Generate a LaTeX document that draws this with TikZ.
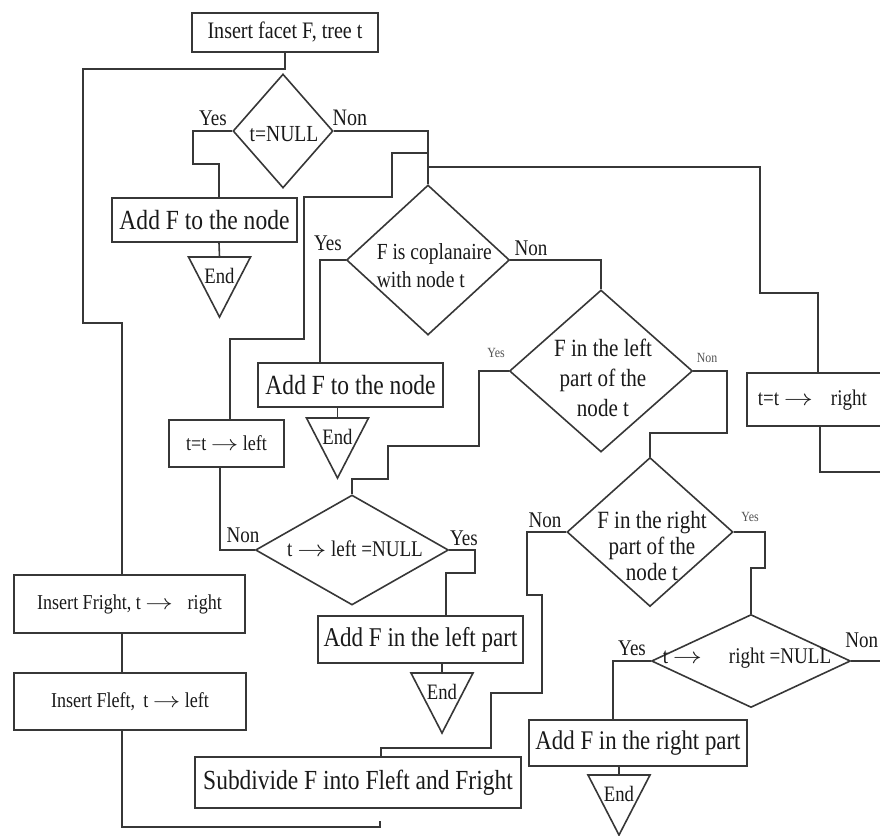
\documentclass[tikz,border=0pt]{standalone}
\usepackage{fix-cm}
\usepackage{fontspec}
\setmainfont[FakeStretch=0.85]{Liberation Serif}
\usetikzlibrary{shapes.geometric}
\definecolor{ln}{RGB}{55,55,55}
\definecolor{tx}{RGB}{25,25,25}
\newcommand\fsz[1]{\fontsize{#1}{#1}\selectfont}
\newcommand\arr{\scalebox{1.3}[1]{$\rightarrow$}}
\tikzset{
  box/.style={draw=ln, rectangle, inner sep=0pt, line width=1.6pt},
  dia/.style={draw=ln, diamond, inner sep=0pt, line width=1.6pt},
  lab/.style={inner sep=0pt, text=tx},
  small/.style={inner sep=0pt, text=tx!75, font=\fsz{14}},
  endtri/.pic={\draw[ln, line width=1.6pt] (-31,0) -- (31,0) -- (0,60) -- cycle;
    \node[lab, font=\fsz{22}] (-t) at (0,19) {End};}
}
\begin{document}
\begin{tikzpicture}[x=1pt, y=-1pt, line width=1.6pt, color=ln, text=tx]
\useasboundingbox (0,0) rectangle (880,835);
\clip (0,0) rectangle (880,835);

% boxes
\node[box, minimum width=186pt, minimum height=39pt, font=\fsz{23.6}] (start) at (285,32.5) {Insert facet F, tree t};
\node[box, minimum width=185pt, minimum height=44pt, font=\fsz{27.7}] (add1) at (204.5,220) {Add F to the node};
\node[box, minimum width=185pt, minimum height=44pt, font=\fsz{27.7}] (add2) at (350.5,385) {Add F to the node};
\node[box, minimum width=115pt, minimum height=47pt, font=\fsz{21.2}] (tleft) at (226.5,443.5) {t=t \arr\ left};
\node[box, minimum width=148pt, minimum height=53pt] (tright) at (821,399.5) {};
\node[lab, font=\fsz{22.4}, anchor=west] (trightT) at (757,400) {t=t \arr\hspace{0.8em}right};
\node[box, minimum width=205pt, minimum height=47pt, font=\fsz{27.1}] (addL) at (420.5,639.5) {Add F in the left part};
\node[box, minimum width=218pt, minimum height=46pt, font=\fsz{26.9}] (addR) at (638,743) {Add F in the right part};
\node[box, minimum width=326pt, minimum height=51pt, font=\fsz{27.6}] (subdiv) at (358,782.5) {Subdivide F into Fleft and Fright};
\node[box, minimum width=231pt, minimum height=58pt, font=\fsz{21.2}] (fright) at (129.5,604) {Insert Fright,\ t \arr\hspace{0.7em}right};
\node[box, minimum width=232pt, minimum height=57pt, font=\fsz{21.2}] (fleft) at (130,701.5) {Insert Fleft,\ \,t \arr\ left};

% diamonds
\node[dia, minimum width=100pt, minimum height=114pt] (d1) at (283,131) {};
\node[lab, font=\fsz{23}] (d1t) at (284,134) {t=NULL};
\node[dia, minimum width=163pt, minimum height=150pt] (d2) at (428,260) {};
\node[lab, font=\fontsize{23}{28}\selectfont, align=left, anchor=west] (d2t) at (376,266) {F is coplanaire\\with node t};
\node[dia, minimum width=183pt, minimum height=162pt] (d3) at (601,371) {};
\node[lab, font=\fontsize{24.8}{30}\selectfont, align=center] (d3t) at (603,378) {F in the left\\part of the\\node t};
\node[dia, minimum width=193pt, minimum height=110pt] (d4) at (352,550) {};
\node[lab, font=\fsz{22.4}] (d4t) at (355,549) {t \arr\ left =NULL};
\node[dia, minimum width=166pt, minimum height=149pt] (d5) at (650,532) {};
\node[lab, font=\fontsize{24.8}{26}\selectfont, align=center] (d5t) at (652,546) {F in the right\\part of the\\node t};
\node[dia, minimum width=199pt, minimum height=93pt] (d6) at (751,661) {};
\node[lab, font=\fsz{22.4}] (d6t) at (747,658) {t \arr\hspace{1.2em}right =NULL};

% end triangles
\coordinate (e1) at (219.5,257);
\coordinate (e2) at (337.5,418);
\coordinate (e3) at (442,673);
\coordinate (e4) at (619,775);
\pic (end1) at (e1) {endtri};
\pic (end2) at (e2) {endtri};
\pic (end3) at (e3) {endtri};
\pic (end4) at (e4) {endtri};

% labels
\node[lab, font=\fsz{22.4}] (y1) at (213,118) {Yes};
\node[lab, font=\fsz{23.6}] (n1) at (350,118) {Non};
\node[lab, font=\fsz{22.4}] (y2) at (328,243) {Yes};
\node[lab, font=\fsz{22.4}] (n2) at (531,248) {Non};
\node[small] (y3) at (496,353) {Yes};
\node[small] (n3) at (707,358) {Non};
\node[lab, font=\fsz{22.4}] (n4) at (243,535) {Non};
\node[lab, font=\fsz{22.4}] (y4) at (464,538) {Yes};
\node[lab, font=\fsz{22.4}] (n5) at (545,520) {Non};
\node[small] (y5) at (750,517) {Yes};
\node[lab, font=\fsz{22.4}] (y6) at (632,648) {Yes};
\node[lab, font=\fsz{22.4}, anchor=east] (n6) at (879,640) {Non};

% connectors
\coordinate (c1) at (122,323);
\draw (start.south) |- (83,69) |- (c1) -- (c1 |- fright.north);
\draw (c1 |- fright.south) -- (c1 |- fleft.north);
\coordinate (c2) at (380,821);
\draw (c1 |- fleft.south) |- (380,827) -- (c2);

\coordinate (c3) at (219,164);
\draw (d1.west) -| (193,164) -- (c3) -- (c3 |- add1.north);
\draw (c3 |- add1.south) -- (e1);

\coordinate (j1) at (428,131);
\draw (d1.east) -- (j1) -- (d2.north);
\coordinate (j2) at (428,167);
\coordinate (c4) at (818,293);
\draw (j2) -| (760,293) -- (c4) -- (c4 |- tright.north);
\coordinate (c5) at (820,472);
\draw (c5 |- tright.south) -- (c5) -- (885,472);

\coordinate (c6) at (230,339);
\coordinate (j3) at (428,153);
\draw (c6 |- tleft.north) -- (c6) -| (304,197) -| (392,153) -- (j3);

\coordinate (c7) at (320,260);
\draw (d2.west) -- (c7) -- (c7 |- add2.north);
\draw (e2 |- add2.south) -- (e2);

\coordinate (c8) at (601,260);
\draw (d2.east) -- (c8) -- (d3.north);

\draw (d3.west) -| (479,446) -| (388,479) -| (d4.north);
\draw (d3.east) -| (727,433) -| (d5.north);

\coordinate (c9) at (220,550);
\draw (d4.west) -- (c9) -- (c9 |- tleft.south);
\coordinate (c10) at (446,573);
\draw (d4.east) -| (475,573) -- (c10) -- (c10 |- addL.north);
\draw (e3 |- addL.south) -- (e3);

\coordinate (c11) at (381,748);
\draw (d5.west) -| (527,595) -| (542,693) -| (491,748) -- (c11) -- (c11 |- subdiv.north);
\draw (d5.east) -| (765,568) -| (d6.north);

\coordinate (c12) at (613,661);
\draw (d6.west) -- (c12) -- (c12 |- addR.north);
\coordinate (c13) at (885,661);
\draw (d6.east) -- (c13);
\draw (e4 |- addR.south) -- (e4);
\end{tikzpicture}
\end{document}
